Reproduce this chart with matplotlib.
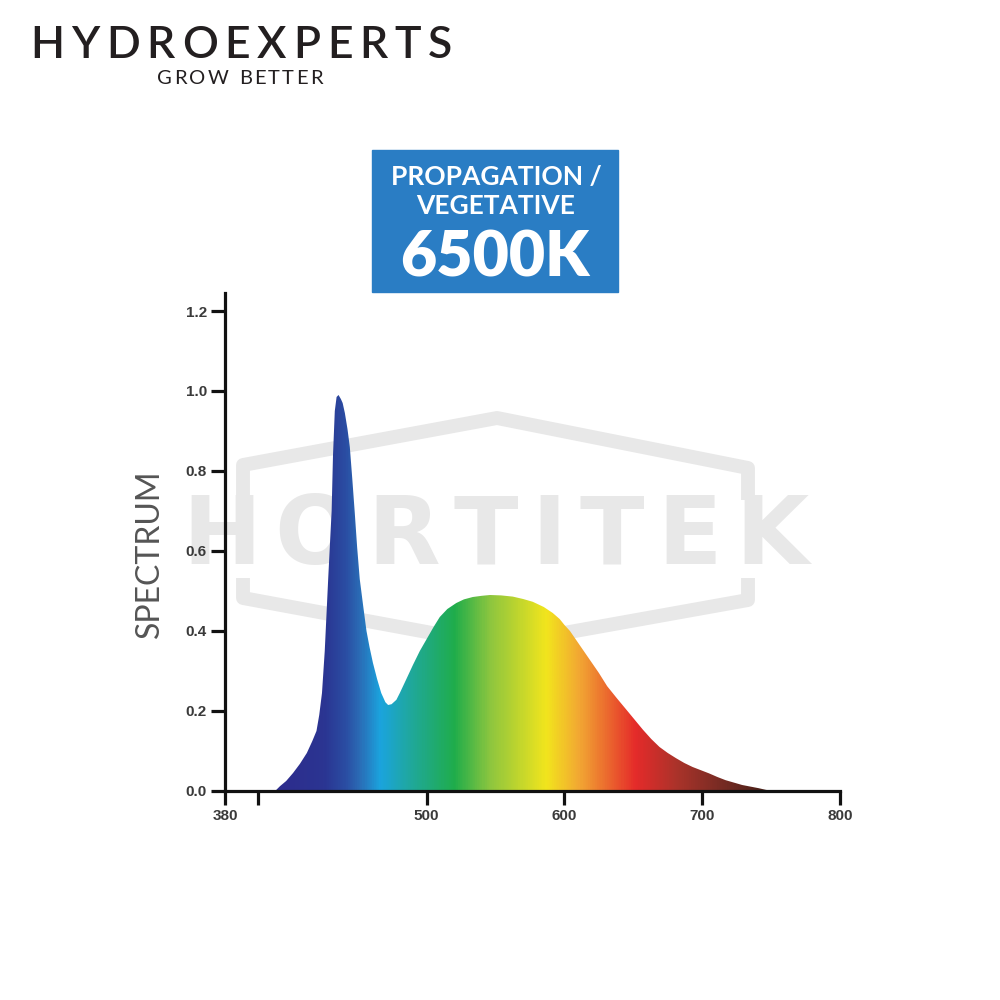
import numpy as np
import matplotlib.pyplot as plt
from matplotlib.colors import LinearSegmentedColormap

# spectrum (nm, relative intensity)
wavelength = [390, 393.5, 398, 403, 408, 413, 417, 420, 422, 424, 426, 428.5, 431, 432,
              433.3, 434.6, 436, 437.7, 439, 440.6, 442.5, 444.2, 446, 447.8, 449.5,
              451.4, 454, 456.3, 458.5, 461, 464, 467, 470, 472, 474.5, 478, 480.5,
              485, 490, 495, 500, 505, 509.5, 515, 521.5, 527, 533.5, 540, 546, 554,
              562.5, 570, 577, 585, 591.5, 596.5, 600, 604, 611, 618, 625, 631, 638,
              645, 651, 657, 663, 669, 675, 681, 687, 693, 699, 705, 711, 717, 723,
              729, 735, 741, 746, 751]
intensity = [0.0, 0.012, 0.025, 0.045, 0.068, 0.095, 0.125, 0.15, 0.19, 0.245, 0.35, 0.53,
             0.70, 0.84, 0.95, 0.985, 0.99, 0.98, 0.97, 0.945, 0.905, 0.86, 0.78, 0.695,
             0.61, 0.53, 0.46, 0.40, 0.36, 0.32, 0.28, 0.245, 0.222, 0.215, 0.217, 0.228,
             0.245, 0.278, 0.315, 0.35, 0.38, 0.41, 0.435, 0.455, 0.47, 0.479, 0.485,
             0.488, 0.49, 0.489, 0.486, 0.48, 0.473, 0.46, 0.445, 0.43, 0.415, 0.40,
             0.365, 0.33, 0.295, 0.262, 0.232, 0.203, 0.178, 0.153, 0.13, 0.11, 0.095,
             0.082, 0.07, 0.06, 0.052, 0.044, 0.035, 0.027, 0.021, 0.015, 0.011, 0.007,
             0.003, 0.0]

y_ticks = [0.0, 0.2, 0.4, 0.6, 0.8, 1.0, 1.2]
y_tick_labels = ["0.0", "0.2", "0.4", "0.6", "0.8", "1.0", "1.2"]
x_ticks = [353.6, 377.5, 500, 600, 700, 800]
x_tick_labels = ["380", "", "500", "600", "700", "800"]

brand = "HYDROEXPERTS"
tagline = "GROW BETTER"
badge_lines = ["PROPAGATION /", "VEGETATIVE", "6500K"]
watermark = "HORTITEK"
y_label = "SPECTRUM"

XMIN, XMAX = 353.6, 800
YMAX = 1.245

# colour of the fill along the wavelength axis
stops = [(XMIN, '#2d2a8a'), (400, '#2d2e8e'), (425, '#2b3592'), (440, '#2a4ca2'),
         (450, '#2b69b4'), (466, '#1ba4de'), (488, '#20a89c'), (520, '#1fad4b'),
         (546, '#8dc63f'), (587, '#f2e51d'), (611, '#f2a733'), (652, '#e52b2a'),
         (683, '#a9332a'), (712, '#7b2c24'), (745, '#4b2119'), (XMAX, '#3a1812')]
cmap = LinearSegmentedColormap.from_list(
    'spec', [((w - XMIN) / (XMAX - XMIN), c) for w, c in stops])

fig = plt.figure(figsize=(10, 10), dpi=100)
renderer = fig.canvas.get_renderer()

bg = fig.add_axes([0, 0, 1, 1], zorder=0)
bg.set_xlim(0, 1000)
bg.set_ylim(1000, 0)
bg.axis('off')


def spaced_text(ax, s, x0, x1, y, **kw):
    # lay out characters one by one so the word fills x0..x1
    parts = [ax.text(0, y, ch, ha='left', va='center', **kw) for ch in s]
    widths = [p.get_window_extent(renderer).width for p in parts]
    gap = (x1 - x0 - sum(widths)) / (len(s) - 1)
    x = x0
    for p, w in zip(parts, widths):
        p.set_x(x)
        x += w + gap
    return parts


# header
spaced_text(bg, brand, 30, 452, 46, fontsize=32, family='Lato', weight='semibold',
            color='#231f20')
spaced_text(bg, tagline, 157, 323, 78, fontsize=14.5, family='Lato', color='#231f20')

# badge
bg.add_patch(plt.Rectangle((372, 150), 246, 142, color='#2a7dc4', zorder=2))
bg.text(496, 177, badge_lines[0], ha='center', va='center', fontsize=19,
        family='Lato', weight='bold', color='white', zorder=3)
bg.text(496, 206, badge_lines[1], ha='center', va='center', fontsize=19,
        family='Lato', weight='bold', color='white', zorder=3)
bg.text(495, 258, badge_lines[2], ha='center', va='center', fontsize=45,
        family='Lato', weight='heavy', color='white', zorder=3)

# watermark
wm = '#e8e8e8'
bg.plot([243, 243, 497, 748, 748], [500, 465, 418, 468, 500], color=wm, lw=10,
        solid_joinstyle='round', solid_capstyle='butt')
bg.plot([243, 243, 497, 748, 748], [578, 598, 645, 600, 578], color=wm, lw=10,
        solid_joinstyle='round', solid_capstyle='butt')
spaced_text(bg, watermark, 182, 808, 538, fontsize=68, family='DejaVu Sans',
            weight='bold', color=wm)

# spectrum axes
ax = fig.add_axes([0.225, 0.209, 0.615, 0.498], zorder=1)
ax.patch.set_alpha(0)
ax.set_xlim(XMIN, XMAX)
ax.set_ylim(0, YMAX)

poly = ax.fill_between(wavelength, intensity, 0, color='none', lw=0)
clip = poly.get_paths()[0]
grad = np.linspace(0, 1, 800).reshape(1, -1)
img = ax.imshow(grad, cmap=cmap, aspect='auto', extent=[XMIN, XMAX, 0, 1.0],
                interpolation='bilinear', zorder=2)
img.set_clip_path(clip, transform=ax.transData)

for side in ['top', 'right']:
    ax.spines[side].set_visible(False)
for side in ['left', 'bottom']:
    ax.spines[side].set_linewidth(2.3)
    ax.spines[side].set_color('#111111')
    ax.spines[side].set_zorder(3)

ax.set_yticks(y_ticks)
ax.set_yticklabels(y_tick_labels)
ax.set_xticks(x_ticks)
ax.set_xticklabels(x_tick_labels)
ax.tick_params(axis='both', length=10, width=2.3, color='#111111', pad=3,
               labelsize=11, labelcolor='#3a3a3a')
for lab in ax.get_xticklabels() + ax.get_yticklabels():
    lab.set_fontweight('bold')
    lab.set_family('Liberation Sans')

fig.text(0.150, 1 - 0.554, y_label, rotation=90, ha='center', va='center',
         fontsize=23, family='Lato', color='#555555')

fig.savefig('out.png', dpi=100)
